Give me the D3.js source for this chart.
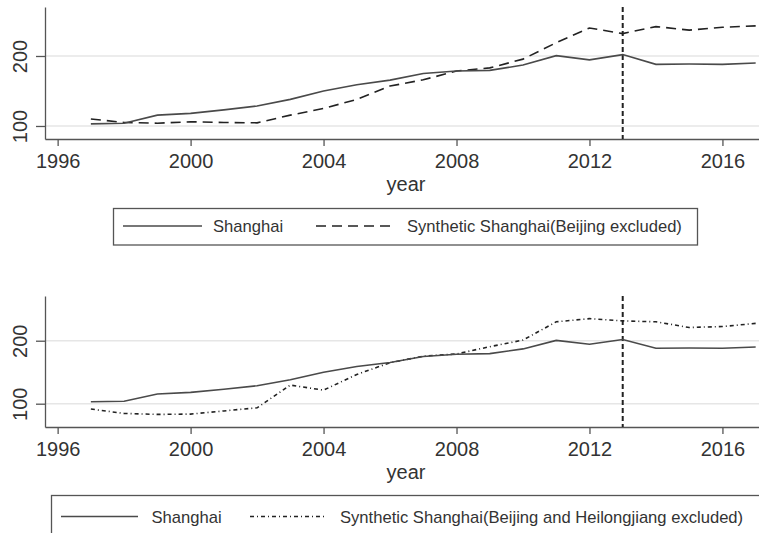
<!DOCTYPE html>
<html>
<head>
<meta charset="utf-8">
<script src="https://d3js.org/d3.v7.min.js"></script>
<style>
  body { margin: 0; background: #fff; }
  svg { display: block; font-family: "Liberation Sans", Arial, sans-serif; }
</style>
</head>
<body>
<div id="wrap"></div>
<script>
// data
var years = [1997,1998,1999,2000,2001,2002,2003,2004,2005,2006,2007,2008,2009,2010,2011,2012,2013,2014,2015,2016,2017];
var shanghai = [103,104,115.5,118,123,128.5,138,150,159,165.5,175,178.5,179.5,187,200.5,194.5,202,188,188.5,188,190];
var synthA = [110,105,104,106,105,104.5,115.5,125,138,157,166,178.5,183,195.5,219,240,232,242,237,241,243];
var synthB = [91.5,84.5,83,83.5,88.5,93.5,129.5,121.5,146.5,165,175.5,179,190.5,201,230,235,231.5,230,221,222.5,227.5];
var xTicks = [1996,2000,2004,2008,2012,2016];
var yTicks = [100,200];
var treatYear = 2013;

var axisColor = '#555', textColor = '#333', lineColor = '#4a4a4a', gridColor = '#e6e6e6';

var svg = d3.select('#wrap').append('svg')
  .attr('width', 759)
  .attr('height', 533);

var x = d3.scaleLinear().domain([1995.62, 2017.1]).range([45, 759]);

function panel(top, bottom, ydom, synth, dash, legend) {
  var y = d3.scaleLinear().domain(ydom).range([bottom, top]);
  var g = svg.append('g');

  // gridlines
  g.selectAll('.grid').data(yTicks).enter().append('line')
    .attr('x1', 45).attr('x2', 759)
    .attr('y1', d => y(d)).attr('y2', d => y(d))
    .attr('stroke', gridColor).attr('stroke-width', 1.5);

  // x axis
  var xa = g.append('g').attr('transform', 'translate(0,' + bottom + ')')
    .call(d3.axisBottom(x).tickValues(xTicks).tickFormat(d3.format('d')).tickSize(7).tickSizeOuter(0).tickPadding(8));
  xa.select('.domain').attr('stroke', axisColor).attr('stroke-width', 1.3);
  xa.selectAll('.tick line').attr('stroke', axisColor).attr('stroke-width', 1.3);
  xa.selectAll('.tick text').attr('fill', textColor).style('font-size', '20px');

  // y axis
  var ya = g.append('g').attr('transform', 'translate(45,0)')
    .call(d3.axisLeft(y).tickValues(yTicks).tickSize(9).tickSizeOuter(0));
  ya.select('.domain').attr('stroke', axisColor).attr('stroke-width', 1.3);
  ya.selectAll('.tick line').attr('stroke', axisColor).attr('stroke-width', 1.3);
  ya.selectAll('.tick text')
    .attr('fill', textColor).style('font-size', '20px')
    .attr('x', 0).attr('dy', 0)
    .attr('text-anchor', 'middle')
    .attr('transform', 'translate(-18,0) rotate(-90)');

  // axis title
  g.append('text').attr('x', 406).attr('y', bottom + 52)
    .attr('text-anchor', 'middle').attr('fill', textColor)
    .style('font-size', '20px').text('year');

  // treatment line
  g.append('line')
    .attr('x1', x(treatYear)).attr('x2', x(treatYear))
    .attr('y1', top).attr('y2', bottom)
    .attr('stroke', '#222').attr('stroke-width', 2)
    .attr('stroke-dasharray', '5,3');

  var line = d3.line().x((d, i) => x(years[i])).y(d => y(d));

  g.append('path').datum(synth)
    .attr('d', line).attr('fill', 'none')
    .attr('stroke', '#222').attr('stroke-width', 1.6)
    .attr('stroke-dasharray', dash);

  g.append('path').datum(shanghai)
    .attr('d', line).attr('fill', 'none')
    .attr('stroke', lineColor).attr('stroke-width', 1.6);

  // legend
  var L = legend;
  g.append('rect')
    .attr('x', L.x).attr('y', L.y).attr('width', L.w).attr('height', L.h)
    .attr('fill', 'none').attr('stroke', axisColor).attr('stroke-width', 1.3);
  g.append('line')
    .attr('x1', L.s1[0]).attr('x2', L.s1[1]).attr('y1', L.ly).attr('y2', L.ly)
    .attr('stroke', lineColor).attr('stroke-width', 1.6);
  g.append('text').attr('x', L.t1).attr('y', L.ly + 6)
    .attr('fill', textColor).style('font-size', '16.6px').text('Shanghai');
  g.append('line')
    .attr('x1', L.s2[0]).attr('x2', L.s2[1]).attr('y1', L.ly).attr('y2', L.ly)
    .attr('stroke', '#222').attr('stroke-width', 1.6)
    .attr('stroke-dasharray', dash);
  g.append('text').attr('x', L.t2).attr('y', L.ly + 6)
    .attr('fill', textColor).style('font-size', '16.6px').text(L.label);
}

panel(7, 139, [81.4, 270], synthA, '10,6', {
  x: 113.5, y: 208.5, w: 584, h: 36.5, ly: 226,
  s1: [123, 202], t1: 213, s2: [316, 394], t2: 407,
  label: 'Synthetic Shanghai(Beijing excluded)'
});

panel(296, 427, [63, 271], synthB, '4,3,1,3', {
  x: 51.5, y: 495.5, w: 720, h: 50, ly: 516.5,
  s1: [61, 138], t1: 151.5, s2: [250, 324], t2: 340,
  label: 'Synthetic Shanghai(Beijing and Heilongjiang excluded)'
});
</script>
</body>
</html>
